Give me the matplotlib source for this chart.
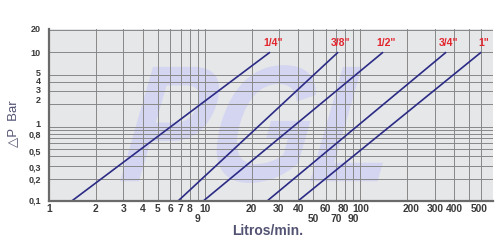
import matplotlib
matplotlib.use("Agg")
import matplotlib.pyplot as plt
from matplotlib.textpath import TextPath
from matplotlib.patches import PathPatch
from matplotlib.font_manager import FontProperties
from matplotlib.transforms import Affine2D

# ---- data ----
sizes = ['1/4"', '3/8"', '1/2"', '3/4"', '1"']
flow_at_low = [1.4, 6.75, 9.8, 25.2, 39.8]      # L/min at 0.1 bar
flow_at_high = [26.3, 72.0, 140.0, 356.0, 598.0]  # L/min at 10 bar
dp_low = 0.1
dp_high = 10.0

x_tick_vals = [1, 2, 3, 4, 5, 6, 7, 8, 9, 10, 20, 30, 40, 50, 60, 70, 80, 90,
               100, 200, 300, 400, 500]
x_tick_labels = ['1', '2', '3', '4', '5', '6', '7', '8', '9', '10', '20', '30',
                 '40', '50', '60', '70', '80', '90', '100', '200', '300',
                 '400', '500']
x_second_row = ['9', '50', '70', '90']
x_minor_vals = [600]
y_tick_vals = [0.1, 0.2, 0.3, 0.5, 0.8, 1, 2, 3, 4, 5, 10, 20]
y_tick_labels = ['0,1', '0,2', '0,3', '0,5', '0,8', '1', '2', '3', '4', '5',
                 '10', '20']
y_minor_vals = [0.4, 0.6, 0.7, 0.9]

# small label nudges (pixels) mimicking the reference placement
x_nudge = {'80': -2, '100': 1, '200': 4, '300': 1, '500': 10}
y_nudge = {'10': -1, '5': 1.5, '4': 0, '3': 0.5, '2': 4, '1': 2.5,
           '0,8': -1.5, '0,5': -3, '0,3': -2.5, '0,2': -1}

line_color = '#2b2b85'
label_red = '#e3262e'
axis_text = '#525273'
tick_text = '#3a3a3a'

fig = plt.figure(figsize=(5, 2.5), dpi=100)
ax = fig.add_axes([0.098, 0.196, 0.888, 0.688])
ax.set_facecolor('#e6e7e9')
ax.set_xscale('log')
ax.set_yscale('log')
ax.set_xlim(1, 712)
ax.set_ylim(0.1, 20.5)

# watermark
tp = TextPath((0, 0), "PGL", size=1,
              prop=FontProperties(family='Liberation Sans', weight='bold'))
tp = Affine2D().skew_deg(20, 0).transform_path(tp)
ext = tp.get_extents()
bx0, bx1, by0, by1 = 0.16, 0.752, 0.105, 0.79
tr = (Affine2D().translate(-ext.x0, -ext.y0)
      .scale((bx1 - bx0) / ext.width, (by1 - by0) / ext.height)
      .translate(bx0, by0))
wm = PathPatch(tr.transform_path(tp), facecolor='#d4d5f1', edgecolor='none',
               transform=ax.transAxes, zorder=0.5)
ax.add_patch(wm)

ax.set_xticks(x_tick_vals)
ax.set_xticks(x_minor_vals, minor=True)
ax.set_yticks(y_tick_vals)
ax.set_yticks(y_minor_vals, minor=True)
ax.grid(True, which='both', color='#888888', linewidth=0.7, zorder=1)
ax.set_axisbelow(False)
ax.tick_params(which='both', length=0, labelbottom=False, labelleft=False)

px = 0.72  # points per pixel at 100 dpi
for v, t in zip(x_tick_vals, x_tick_labels):
    dy = -13 if t in x_second_row else -3.5
    ax.annotate(t, (v, 0), xycoords=('data', 'axes fraction'),
                xytext=(x_nudge.get(t, 0) * px, dy * px),
                textcoords='offset points', ha='center', va='top',
                fontsize=7.4, fontweight='bold', family='Liberation Sans',
                color=tick_text, annotation_clip=False)
for v, t in zip(y_tick_vals, y_tick_labels):
    ax.annotate(t, (0, v), xycoords=('axes fraction', 'data'),
                xytext=(-8 * px, y_nudge.get(t, 0) * px),
                textcoords='offset points', ha='right', va='center',
                fontsize=6.5, fontweight='bold', family='Liberation Sans',
                color=tick_text, annotation_clip=False)

for sp in ['top', 'right']:
    ax.spines[sp].set_visible(False)
for sp in ['left', 'bottom']:
    ax.spines[sp].set_color('#6a6a6a')
    ax.spines[sp].set_linewidth(1.6)
    ax.spines[sp].set_zorder(5)

for name, q0, q1 in zip(sizes, flow_at_low, flow_at_high):
    ax.plot([q0, q1], [dp_low, dp_high], color=line_color, linewidth=1.2,
            zorder=3, solid_capstyle='butt')
    ax.annotate(name, (q1, dp_high), xytext=(2, 3), textcoords='offset points',
                ha='center', va='bottom', color=label_red, fontsize=7.6,
                fontweight='bold', family='Liberation Sans', zorder=4,
                annotation_clip=False)

ax.set_xlabel('Litros/min.', family='Liberation Sans', fontweight='bold',
              fontsize=10, color=axis_text)
ax.xaxis.set_label_coords(0.493, -0.135)
ax.set_ylabel('△P  Bar', family=['Liberation Sans', 'DejaVu Sans'],
              fontsize=9.5, color=axis_text)
ax.yaxis.set_label_coords(-0.068, 0.45)

fig.savefig('out.png', dpi=100)
